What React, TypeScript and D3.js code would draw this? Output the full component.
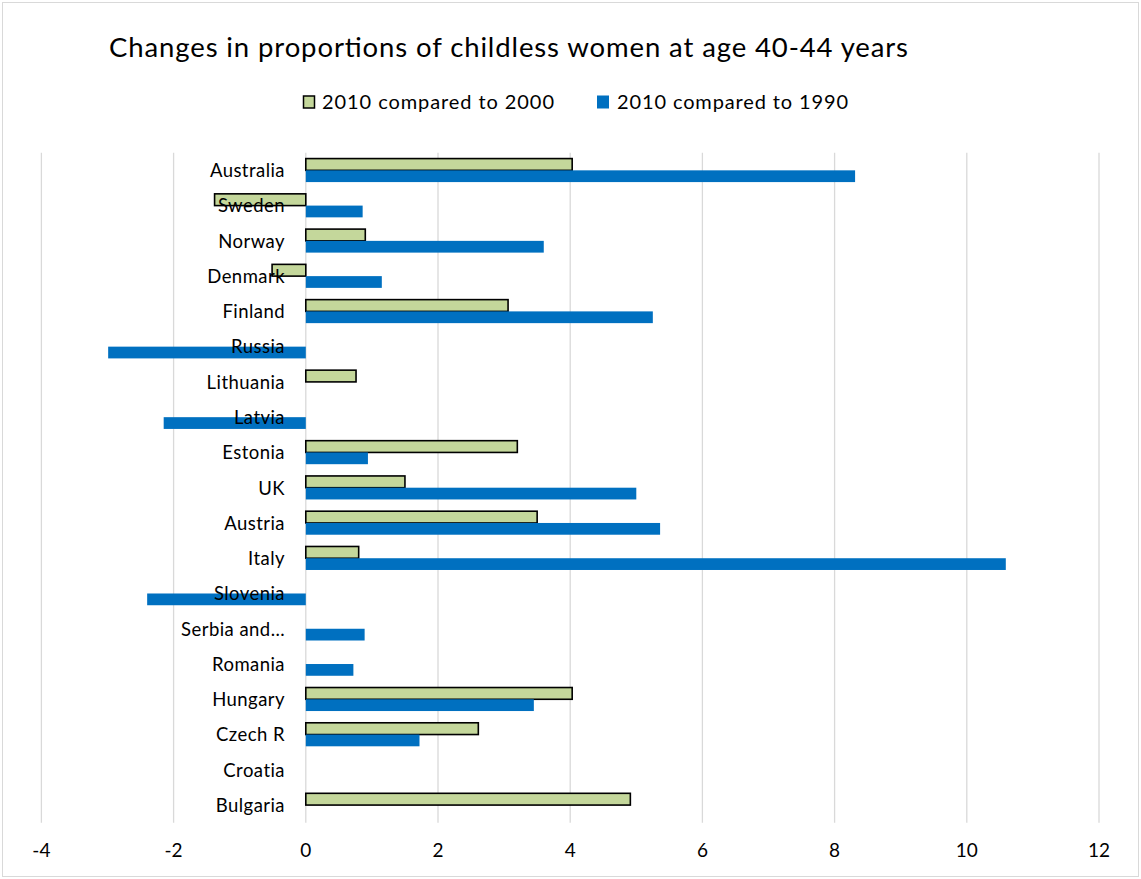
import React from "react";
import * as d3 from "d3";

const categories = [
  "Australia", "Sweden", "Norway", "Denmark", "Finland", "Russia", "Lithuania",
  "Latvia", "Estonia", "UK", "Austria", "Italy", "Slovenia", "Serbia and…",
  "Romania", "Hungary", "Czech R", "Croatia", "Bulgaria",
];
const vs2000: (number | null)[] = [
  4.03, -1.38, 0.9, -0.51, 3.06, null, 0.76,
  null, 3.2, 1.5, 3.5, 0.8, null, null,
  null, 4.03, 2.61, null, 4.91,
];
const vs1990: (number | null)[] = [
  8.31, 0.86, 3.6, 1.15, 5.25, -2.99, null,
  -2.15, 0.94, 5.0, 5.36, 10.59, -2.4, 0.89,
  0.72, 3.45, 1.72, null, null,
];
const xTicks = [-4, -2, 0, 2, 4, 6, 8, 10, 12];
const seriesNames = ["2010 compared to 2000", "2010 compared to 1990"];

const W = 1141, H = 879;
const FONT = "Lato, Calibri, 'Liberation Sans', sans-serif";
const GREEN = "#c4d79b";
const BLUE = "#0070c0";

export default function App() {
  const x = d3.scaleLinear().domain([-4, 12]).range([41.4, 1099]);
  const y = d3.scaleBand<string>().domain(categories).range([152.7, 822.7]).padding(0);
  const sub = d3.scaleBand<string>().domain(["a", "b"]).range([0, y.bandwidth()]).paddingInner(0).paddingOuter(0.5);
  const x0 = x(0);

  return (
    <svg width={W} height={H} style={{ position: "absolute", left: 0, top: 0, display: "block" }} fontFamily={FONT}>
      <rect x={0} y={0} width={W} height={H} fill="#fff" />
      <rect x={2.5} y={2.5} width={W - 5} height={H - 5} fill="none" stroke="#d9d9d9" strokeWidth={1} />
      <text x={109} y={57} fontSize={27.5} fill="#000" textLength={799} lengthAdjust="spacing">
        Changes in proportions of childless women at age 40-44 years
      </text>

      {/* legend */}
      <rect x={303.5} y={96} width={11} height={12} fill={GREEN} stroke="#000" strokeWidth={1.5} />
      <text x={322} y={108.5} fontSize={20} fill="#000" textLength={232} lengthAdjust="spacing">{seriesNames[0]}</text>
      <rect x={597} y={95.5} width={12} height={13} fill={BLUE} />
      <text x={617} y={108.5} fontSize={20} fill="#000" textLength={231} lengthAdjust="spacing">{seriesNames[1]}</text>

      {/* gridlines */}
      {xTicks.map((t) => (
        <line key={t} x1={x(t)} x2={x(t)} y1={152.7} y2={822.7} stroke="#d9d9d9" strokeWidth={1.3} />
      ))}

      {/* bars */}
      {categories.map((c, i) => {
        const v1 = vs2000[i];
        const v2 = vs1990[i];
        const top = y(c)!;
        return (
          <g key={c}>
            {v1 !== null && (
              <rect
                x={Math.min(x(v1), x0)}
                y={top + sub("a")!}
                width={Math.abs(x(v1) - x0)}
                height={sub.bandwidth()}
                fill={GREEN}
                stroke="#000"
                strokeWidth={1.6}
              />
            )}
            {v2 !== null && (
              <rect
                x={Math.min(x(v2), x0)}
                y={top + sub("b")!}
                width={Math.abs(x(v2) - x0)}
                height={sub.bandwidth()}
                fill={BLUE}
              />
            )}
          </g>
        );
      })}

      {/* category labels */}
      {categories.map((c) => (
        <text key={c} x={285} y={y(c)! + y.bandwidth() / 2 + 6.8} fontSize={18.5} letterSpacing={0.45} textAnchor="end" fill="#000">
          {c}
        </text>
      ))}

      {/* x tick labels */}
      {xTicks.map((t) => (
        <text key={t} x={x(t)} y={857} fontSize={19} textAnchor="middle" fill="#000">
          {t}
        </text>
      ))}
    </svg>
  );
}
